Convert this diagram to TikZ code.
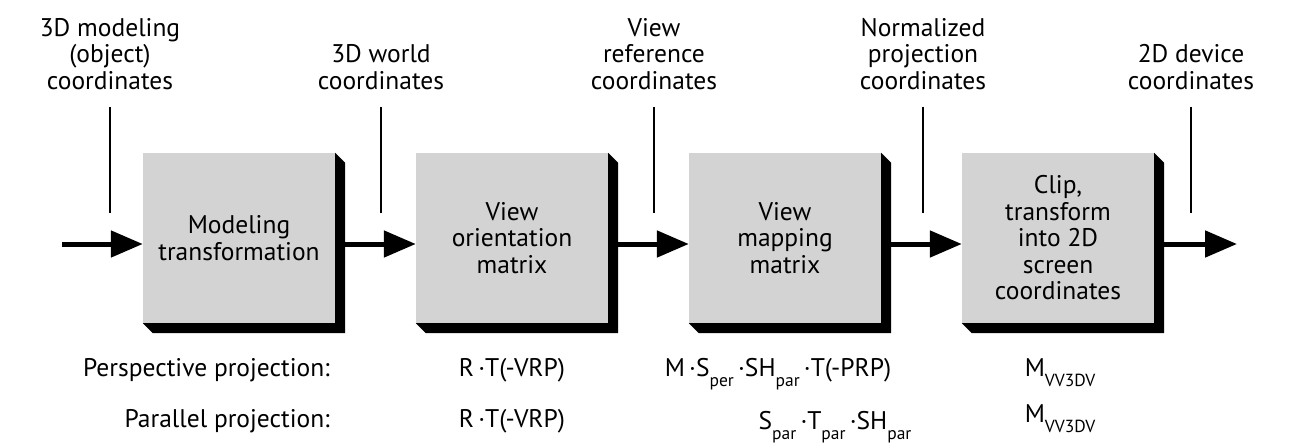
\documentclass[tikz,border=0pt]{standalone}
\usepackage{fontspec}
\setmainfont{PT Sans}
\usetikzlibrary{arrows.meta,backgrounds}
\definecolor{boxgray}{HTML}{D3D3D3}
\newcommand{\lowsub}[1]{\raisebox{-0.4em}{\fontsize{17.5}{17.5}\selectfont #1}}

\begin{document}
\begin{tikzpicture}[x=1pt, y=-1pt,
  font=\fontsize{25.5}{26.5}\selectfont,
  stagebox/.style={fill=boxgray, minimum width=192pt, minimum height=170pt, inner sep=0pt, align=center},
  coordlabel/.style={anchor=south, align=center, inner sep=0pt},
  rowtext/.style={anchor=base, inner sep=0pt},
  flow/.style={line width=5pt, -{Triangle[length=32pt,width=26pt]}},
  tick/.style={line width=1.2pt}]
\useasboundingbox (0,0) rectangle (1303,447);

% stages
\node[stagebox] (model)   at (239,238) {Modeling\\transformation};
\node[stagebox] (orient)  at (512,238) {View\\orientation\\matrix};
\node[stagebox] (mapping) at (785,238) {View\\mapping\\matrix};
\node[stagebox] (clip)    at (1058,238) {Clip,\\transform\\into 2D\\screen\\coordinates};

\begin{scope}[on background layer]
\foreach \b in {model,orient,mapping,clip}
  \fill (\b.north east) -- ([shift={(10,10)}]\b.north east) -- ([shift={(10,10)}]\b.south east)
    -- ([shift={(10,10)}]\b.south west) -- (\b.south west) -- cycle;
\end{scope}

% coordinate systems
\node[coordlabel] (objcoord)   at (110,90)  {3D modeling\\(object)\\coordinates};
\node[coordlabel] (worldcoord) at (381,90)  {3D world\\coordinates};
\node[coordlabel] (vrccoord)   at (654,90)  {View\\reference\\coordinates};
\node[coordlabel] (npccoord)   at (923,90)  {Normalized\\projection\\coordinates};
\node[coordlabel] (devcoord)   at (1191,90) {2D device\\coordinates};
\foreach \c in {objcoord,worldcoord,vrccoord,npccoord,devcoord}
  \draw[tick] ([shift={(0,17)}]\c.south) -- ++(0,106);

% pipeline
\coordinate (source) at (62,244);
\coordinate (sink)   at (1237,244);
\draw[flow] (source) -- ([shift={(0,6)}]model.west);
\draw[flow] ([shift={(10,6)}]model.east) -- ([shift={(0,6)}]orient.west);
\draw[flow] ([shift={(10,6)}]orient.east) -- ([shift={(0,6)}]mapping.west);
\draw[flow] ([shift={(10,6)}]mapping.east) -- ([shift={(0,6)}]clip.west);
\draw[flow] ([shift={(10,6)}]clip.east) -- (sink);

% matrices
\node[rowtext, anchor=base east] (perspname) at (330,376) {Perspective projection:};
\node[rowtext] (perspvo) at (512,376) {R\,·T(-VRP)};
\node[rowtext] (perspvm) at (778,376) {M\,·S\lowsub{per}\,·SH\lowsub{par}\,·T(-PRP)};
\node[rowtext] (perspcl) at (1060,376) {M\lowsub{VV3DV}};
\node[rowtext, anchor=base east] (parname) at (330,427) {Parallel projection:};
\node[rowtext] (parvo) at (512,427) {R\,·T(-VRP)};
\node[rowtext] (parvm) at (835,429) {S\lowsub{par}\,·T\lowsub{par}\,·SH\lowsub{par}};
\node[rowtext] (parcl) at (1060,422) {M\lowsub{VV3DV}};
\end{tikzpicture}
\end{document}
